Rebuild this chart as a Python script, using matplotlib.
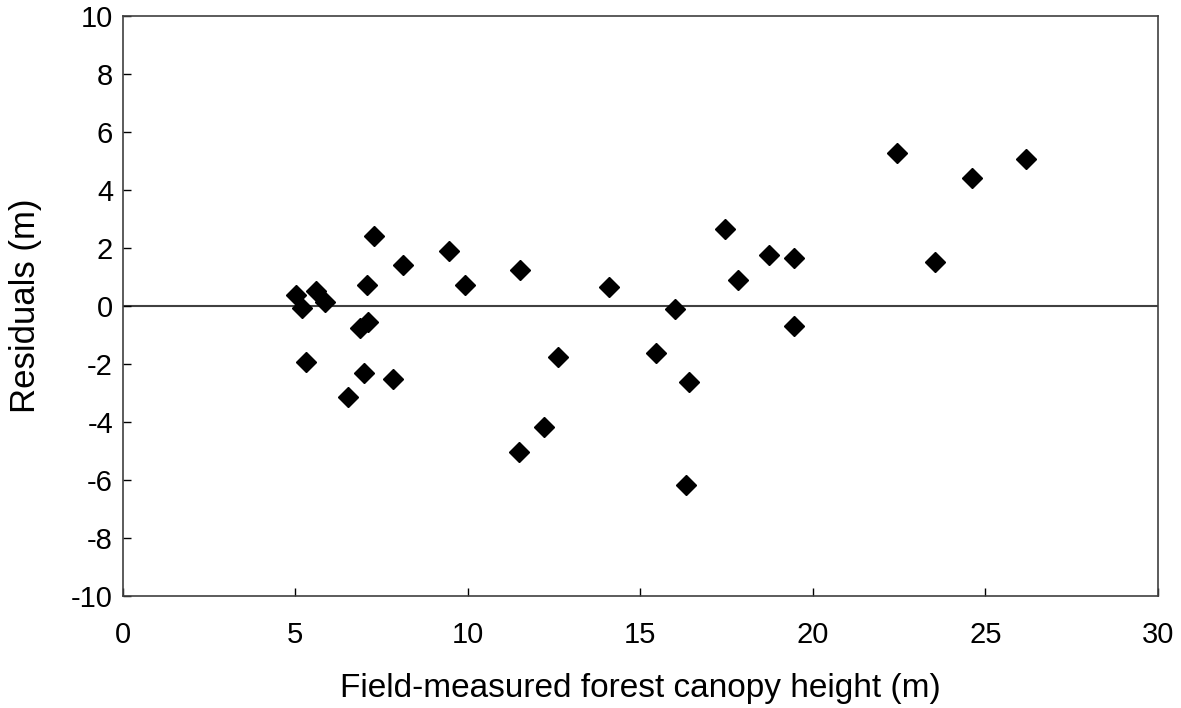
import matplotlib
matplotlib.use("Agg")
import matplotlib.pyplot as plt

plt.rcParams['font.family'] = ['Liberation Sans', 'DejaVu Sans']
plt.rcParams['axes.unicode_minus'] = False

heights = [5.01, 5.18, 5.30, 5.61, 5.86, 6.53, 6.87, 7.11, 7.00, 7.08, 7.28, 7.84, 8.13,
           9.45, 9.91, 11.48, 11.51, 12.20, 12.60, 14.09, 15.45, 16.00, 16.40, 16.32,
           17.45, 17.83, 18.72, 19.45, 19.45, 22.43, 23.54, 24.61, 26.17]
residuals = [0.40, -0.06, -1.94, 0.51, 0.13, -3.14, -0.75, -0.56, -2.30, 0.74, 2.43, -2.51, 1.43,
             1.91, 0.74, -5.02, 1.26, -4.16, -1.74, 0.67, -1.60, -0.09, -2.60, -6.16,
             2.67, 0.91, 1.78, 1.67, -0.67, 5.29, 1.53, 4.43, 5.09]
xticks = [0, 5, 10, 15, 20, 25, 30]
yticks = [-10, -8, -6, -4, -2, 0, 2, 4, 6, 8, 10]

fig = plt.figure(figsize=(11.81, 7.08), dpi=100)
ax = fig.add_axes([0.104, 0.158, 0.8765, 0.819])
ax.axhline(0, color='#404040', lw=1.5, zorder=1)
ax.plot(heights, residuals, linestyle='none', marker='D', ms=10, color='black', zorder=2)
ax.set_xlim(0, 30)
ax.set_ylim(-10, 10)
ax.set_xticks(xticks)
ax.set_yticks(yticks)
ax.tick_params(direction='in', length=6, width=1, labelsize=21, pad=7)
ax.tick_params(axis='x', pad=18)
for s in ax.spines.values():
    s.set_color('#404040')
    s.set_linewidth(1.2)
ax.set_xlabel('Field-measured forest canopy height (m)', fontsize=24, labelpad=17)
ax.set_ylabel('Residuals (m)', fontsize=25, labelpad=21)
fig.savefig('out.png', dpi=100)
